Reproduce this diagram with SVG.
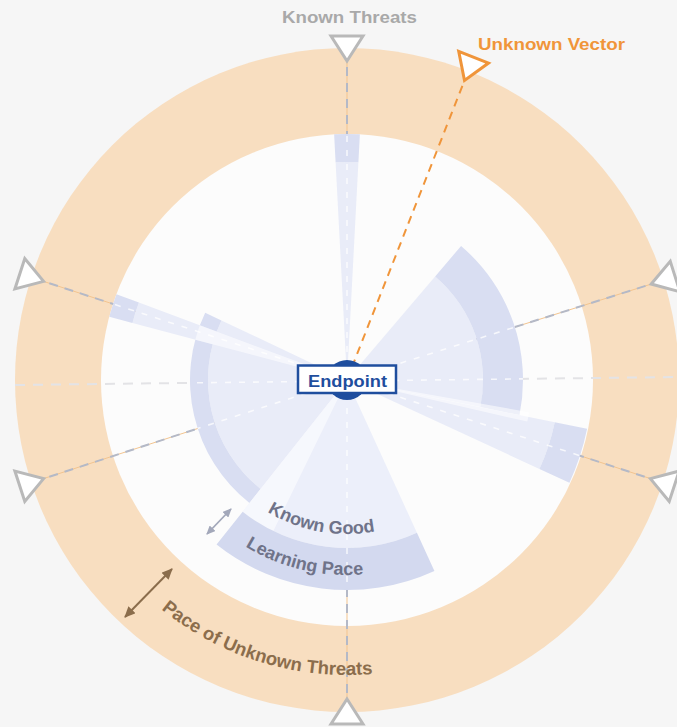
<svg xmlns="http://www.w3.org/2000/svg" width="677" height="727" viewBox="0 0 677 727">
<defs>
<style>
.bg{fill:#f6f6f6}
.disc{fill:#fcfcfc}
.ring{fill:#f8dec0}
.lt{fill:#e9ecf8}
.band{fill:#d9def2}
.lp{fill:#d3d9ef}
.kg{fill:#eceffa}
.wh{fill:#ffffff;fill-opacity:0.55}
.gline{fill:none;stroke:#b4b9c7;stroke-width:2;stroke-dasharray:9 7}
.oline{fill:none;stroke:#f2c48f;stroke-width:1}
.wline{fill:none;stroke:#ffffff;stroke-opacity:0.75;stroke-width:1.6;stroke-dasharray:6 8}
.hline{fill:none;stroke:#e3e3e6;stroke-width:2;stroke-dasharray:10 8}
.uv{fill:none;stroke:#f0953a;stroke-width:2;stroke-dasharray:8 6}
.tri{fill:#ffffff;stroke:#b9b9b9;stroke-width:3;stroke-linejoin:miter}
.triO{fill:#ffffff;stroke:#f0953a;stroke-width:3;stroke-linejoin:miter}
.t{font-family:"Liberation Sans",Arial,sans-serif;font-weight:700}
.arcT{fill:#6f7389}
</style>
<path id="tri" d="M0,0 L-16,-25 L16,-25 Z"/>
<marker id="ahB" markerUnits="userSpaceOnUse" markerWidth="11" markerHeight="10" viewBox="0 0 11 10" refX="10" refY="5" orient="auto-start-reverse"><path d="M0,0 L11,5 L0,10 Z" fill="#8b6d4c"/></marker>
<marker id="ahG" markerUnits="userSpaceOnUse" markerWidth="9" markerHeight="8" viewBox="0 0 9 8" refX="8" refY="4" orient="auto-start-reverse"><path d="M0,0 L9,4 L0,8 Z" fill="#a3a8ba"/></marker>
<path id="pKG" d="M213.23,456.30 A154 154 0 0 0 445.37,498.49"/>
<path id="pLP" d="M172.82,467.62 A195 195 0 0 0 463.54,536.35"/>
<path id="pPU" d="M75.45,495.27 A295 295 0 0 0 507.67,627.41"/>
<path id="sTop" d="M347,380 L334.12,134.34 A246 246 0 0 1 359.88,134.34 Z"/>
<path id="sUR" d="M347,380 L461.07,245.98 A176 176 0 0 1 519.47,415.09 Z"/>
<path id="sRL" d="M347,380 L587.08,428.85 A245 245 0 0 1 569.41,482.77 Z"/>
<path id="sL" d="M347,380 L249.48,503.04 A157 157 0 0 1 205.18,312.66 Z"/>
<path id="sLT" d="M347,380 L109.27,316.75 A246 246 0 0 1 116.43,294.25 Z"/>
<path id="sB" d="M347,380 L434.42,570.94 A210 210 0 0 1 216.56,544.57 Z"/>
<clipPath id="secClip">
<use href="#sTop"/><use href="#sUR"/><use href="#sRL"/><use href="#sL"/><use href="#sLT"/><use href="#sB"/>
</clipPath>
</defs>

<rect class="bg" x="0" y="0" width="677" height="727"/>

<g id="ring">
<circle class="ring" cx="347" cy="380" r="332"/>
<circle class="disc" cx="347" cy="380" r="246"/>
</g>

<g id="connectors">
<path class="hline" d="M15,385 L677,377"/>
<path class="oline" d="M347,380 L347,61"/>
<path class="gline" d="M347,380 L347,61"/>
<path class="oline" d="M347,380 L651.24,284.07"/>
<path class="gline" d="M347,380 L651.24,284.07"/>
<path class="oline" d="M347,380 L650.39,478.58"/>
<path class="gline" d="M347,380 L650.39,478.58"/>
<path class="oline" d="M347,380 L347,699"/>
<path class="gline" d="M347,380 L347,699"/>
<path class="oline" d="M347,380 L43.61,478.58"/>
<path class="gline" d="M347,380 L43.61,478.58"/>
<path class="oline" d="M347,380 L43.61,281.42"/>
<path class="gline" d="M347,380 L43.61,281.42"/>
</g>

<g id="sectors">
<!-- top thin -->
<path class="lt" d="M347,380 L335.59,162.30 A218 218 0 0 1 358.41,162.30 Z"/>
<path class="band" d="M334.12,134.34 A246 246 0 0 1 359.88,134.34 L358.41,162.30 A218 218 0 0 0 335.59,162.30 Z"/>
<!-- upper right -->
<path class="lt" d="M347,380 L435.14,276.44 A136 136 0 0 1 480.27,407.11 Z"/>
<path class="band" d="M461.07,245.98 A176 176 0 0 1 519.47,415.09 L480.27,407.11 A136 136 0 0 0 435.14,276.44 Z"/>
<!-- right lower thin -->
<path class="lt" d="M347,380 L554.74,422.27 A212 212 0 0 1 539.45,468.92 Z"/>
<path class="band" d="M587.08,428.85 A245 245 0 0 1 569.41,482.77 L539.45,468.92 A212 212 0 0 0 554.74,422.27 Z"/>
<path class="wh" d="M347,380 L529.19,412.13 A185 185 0 0 1 527.26,421.62 Z"/>
<!-- left big -->
<path class="lt" d="M347,380 L260.66,488.93 A139 139 0 0 1 221.44,320.38 Z"/>
<path class="band" d="M249.48,503.04 A157 157 0 0 1 205.18,312.66 L221.44,320.38 A139 139 0 0 0 260.66,488.93 Z"/>
<!-- left thin -->
<path class="lt" d="M347,380 L132.46,322.92 A222 222 0 0 1 138.92,302.62 Z"/>
<path class="band" d="M109.27,316.75 A246 246 0 0 1 116.43,294.25 L138.92,302.62 A222 222 0 0 0 132.46,322.92 Z"/>
<path class="wh" d="M347,380 L195.28,339.63 A157 157 0 0 1 199.85,325.27 Z"/>
<!-- bottom -->
<path class="kg" d="M347,380 L416.93,532.75 A168 168 0 0 1 242.65,511.66 Z"/>
<path class="wh" d="M347,380 L273.35,531.0 A168 168 0 0 1 242.65,511.66 Z"/>
<path class="lp" d="M434.42,570.94 A210 210 0 0 1 216.56,544.57 L242.65,511.66 A168 168 0 0 0 416.93,532.75 Z"/>
</g>

<g id="connectors-overlay" clip-path="url(#secClip)">
<path class="wline" d="M15,385 L677,377"/>
<path class="wline" d="M347,380 L347,61"/>
<path class="wline" d="M347,380 L651.24,284.07"/>
<path class="wline" d="M347,380 L650.39,478.58"/>
<path class="wline" d="M347,380 L347,699"/>
<path class="wline" d="M347,380 L43.61,478.58"/>
<path class="wline" d="M347,380 L43.61,281.42"/>
</g>

<g id="connectors-top">
<path class="uv" d="M352,367 L464.5,80.5"/>
<path d="M125,617 L172,569" fill="none" stroke="#8b6d4c" stroke-width="2" marker-start="url(#ahB)" marker-end="url(#ahB)"/>
<path d="M207,534 L231,509" fill="none" stroke="#a3a8ba" stroke-width="1.8" marker-start="url(#ahG)" marker-end="url(#ahG)"/>
</g>

<g id="markers">
<use href="#tri" class="tri" transform="translate(347,61)"/>
<use href="#tri" class="tri" transform="translate(651.24,284.07) rotate(72.5)"/>
<use href="#tri" class="tri" transform="translate(650.39,478.58) rotate(108)"/>
<use href="#tri" class="tri" transform="translate(347,699) rotate(180)"/>
<use href="#tri" class="tri" transform="translate(43.61,478.58) rotate(252)"/>
<use href="#tri" class="tri" transform="translate(43.61,281.42) rotate(288)"/>
<use href="#tri" class="triO" transform="translate(464.5,80.5) rotate(21.4)"/>
</g>

<g id="known-threats">
<text class="t" x="282" y="23" font-size="17" fill="#a9a9a9" textLength="135" lengthAdjust="spacingAndGlyphs">Known Threats</text>
</g>
<g id="unknown-vector">
<text class="t" x="478" y="50" font-size="17" fill="#f0953a" textLength="147" lengthAdjust="spacingAndGlyphs">Unknown Vector</text>
</g>

<g id="known-good">
<text class="t arcT" font-size="18"><textPath href="#pKG" startOffset="50%" text-anchor="middle">Known Good</textPath></text>
</g>
<g id="learning-pace">
<text class="t arcT" font-size="18"><textPath href="#pLP" startOffset="50%" text-anchor="middle">Learning Pace</textPath></text>
</g>
<g id="pace-unknown">
<text class="t" font-size="18.5" fill="#8b6d4c"><textPath href="#pPU" startOffset="50%" text-anchor="middle">Pace of Unknown Threats</textPath></text>
</g>

<g id="endpoint">
<circle cx="347" cy="380" r="20" fill="#1f4e9e"/>
<rect x="298" y="365.5" width="98" height="27.5" fill="#ffffff" stroke="#1f4e9e" stroke-width="2.5"/>
<text class="t" x="347.5" y="387" font-size="17" fill="#1f4e9e" text-anchor="middle" textLength="79" lengthAdjust="spacingAndGlyphs">Endpoint</text>
</g>
</svg>
